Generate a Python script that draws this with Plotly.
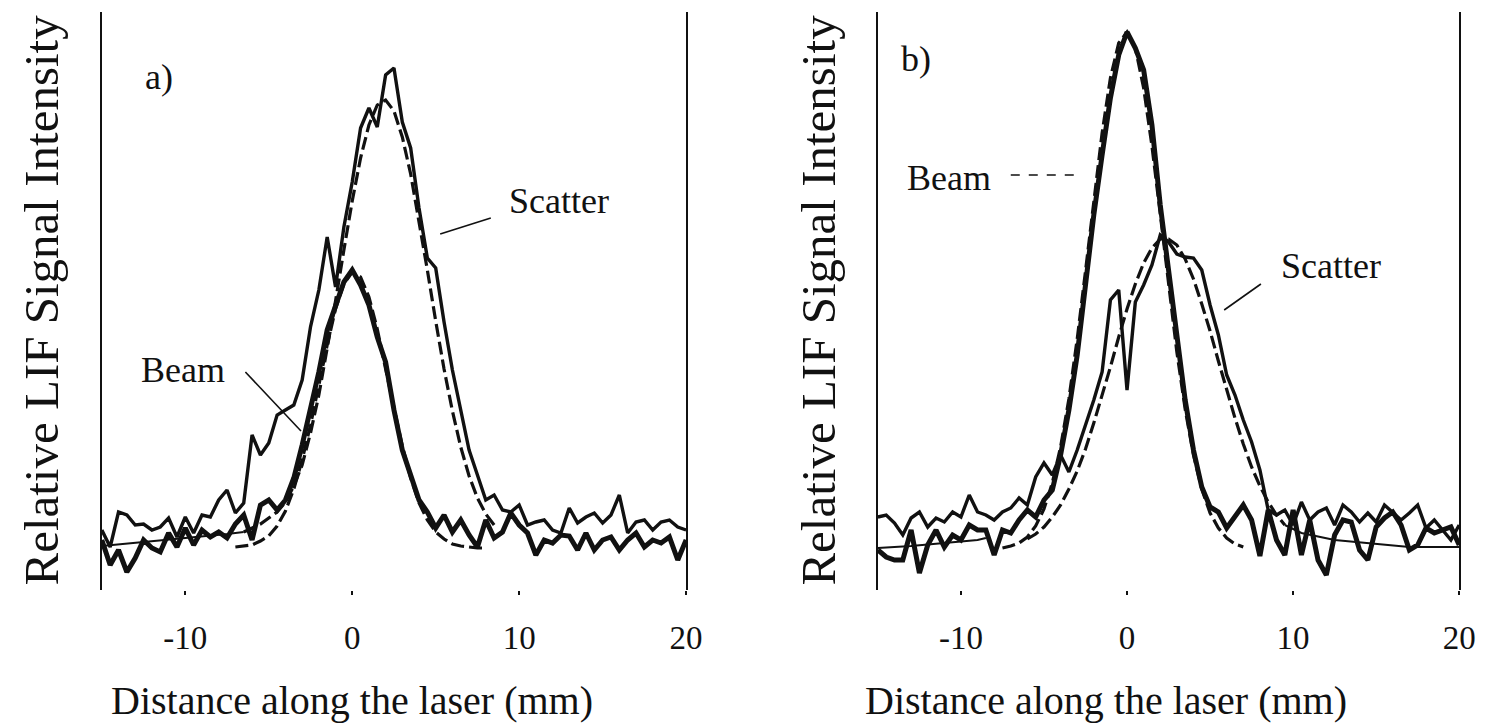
import plotly.graph_objects as go

# ---------------- data ----------------
X_MEAS = [-15.0, -14.5, -14.0, -13.5, -13.0, -12.5, -12.0, -11.5, -11.0, -10.5,
          -10.0, -9.5, -9.0, -8.5, -8.0, -7.5, -7.0, -6.5, -6.0, -5.5,
          -5.0, -4.5, -4.0, -3.5, -3.0, -2.5, -2.0, -1.5, -1.0, -0.5,
          0.0, 0.5, 1.0, 1.5, 2.0, 2.5, 3.0, 3.5, 4.0, 4.5,
          5.0, 5.5, 6.0, 6.5, 7.0, 7.5, 8.0, 8.5, 9.0, 9.5,
          10.0, 10.5, 11.0, 11.5, 12.0, 12.5, 13.0, 13.5, 14.0, 14.5,
          15.0, 15.5, 16.0, 16.5, 17.0, 17.5, 18.0, 18.5, 19.0, 19.5, 20.0]

# panel a) measured
scatter_a = [60, 43, 78, 75, 65, 66, 60, 63, 72, 53,
             73, 57, 75, 73, 90, 100, 77, 87, 155, 135,
             147, 175, 180, 185, 210, 263, 300, 353, 303, 363,
             408, 462, 482, 463, 515, 522, 468, 442, 382, 332,
             322, 268, 220, 180, 140, 115, 90, 95, 80, 78,
             85, 65, 68, 70, 60, 57, 82, 67, 73, 77,
             67, 75, 95, 57, 68, 70, 60, 68, 70, 63, 60]
beam_a = [50, 25, 40, 18, 32, 50, 42, 38, 57, 43,
          62, 45, 60, 53, 58, 52, 66, 75, 50, 85,
          90, 80, 90, 112, 145, 180, 218, 260, 285, 308,
          320, 305, 285, 253, 228, 180, 140, 115, 90, 78,
          62, 75, 58, 70, 55, 43, 70, 52, 58, 77,
          65, 57, 35, 50, 47, 55, 54, 40, 57, 40,
          50, 53, 40, 50, 57, 43, 50, 47, 53, 30, 50]

# panel a) fits
x_beam_fit_a = [-7.0, -6.5, -6.0, -5.5, -5.0, -4.5, -4.0, -3.5, -3.0, -2.5,
                -2.0, -1.5, -1.0, -0.5, 0.0, 0.5, 1.0, 1.5, 2.0, 2.5,
                3.0, 3.5, 4.0, 4.5, 5.0, 5.5, 6.0, 6.5, 7.0, 7.5, 8.0]
beam_fit_a = [43, 44, 45, 49, 54, 64, 79, 101, 130, 165,
              205, 245, 281, 306, 318, 313, 293, 261, 221, 181,
              144, 112, 87, 70, 58, 51, 46, 44, 43, 42, 42]
x_scatter_fit_a = [-6.5, -6.0, -5.5, -5.0, -4.5, -4.0, -3.5, -3.0, -2.5, -2.0,
                   -1.5, -1.0, -0.5, 0.0, 0.5, 1.0, 1.5, 2.0, 2.5, 3.0,
                   3.5, 4.0, 4.5, 5.0, 5.5, 6.0, 6.5, 7.0, 7.5, 8.0, 8.5]
scatter_fit_a = [58, 62, 66, 72, 78, 88, 104, 125, 157, 195,
                 240, 289, 340, 389, 432, 465, 485, 490, 479, 453,
                 416, 370, 320, 269, 221, 179, 143, 114, 92, 76, 65]
x_tail_a = [-15.0, -13.0, -11.0, -9.0, -7.5, -6.5]
tail_a = [44, 47, 50, 53, 56, 58]

# panel b) measured
scatter_b = [73, 75, 67, 55, 72, 78, 63, 72, 68, 78,
             73, 95, 78, 75, 70, 78, 82, 92, 85, 113,
             127, 115, 135, 118, 140, 165, 190, 218, 290, 300,
             200, 288, 305, 325, 355, 348, 336, 333, 332, 320,
             285, 255, 215, 195, 170, 148, 120, 80, 75, 80,
             65, 88, 70, 78, 82, 65, 85, 78, 68, 77,
             68, 85, 77, 70, 77, 85, 62, 70, 60, 50, 65]
beam_b = [40, 33, 30, 30, 60, 17, 45, 60, 43, 55,
          50, 65, 60, 60, 35, 60, 57, 70, 80, 73,
          90, 100, 135, 180, 235, 310, 375, 435, 492, 535,
          558, 542, 520, 465, 385, 320, 250, 190, 140, 103,
          83, 78, 62, 73, 85, 70, 34, 80, 50, 35,
          80, 35, 70, 30, 15, 55, 70, 68, 40, 30,
          63, 72, 78, 65, 40, 45, 62, 57, 60, 63, 45]

# panel b) fits
x_beam_fit_b = [-7.5, -7.0, -6.5, -6.0, -5.5, -5.0, -4.5, -4.0, -3.5, -3.0,
                -2.5, -2.0, -1.5, -1.0, -0.5, 0.0, 0.5, 1.0, 1.5, 2.0,
                2.5, 3.0, 3.5, 4.0, 4.5, 5.0, 5.5, 6.0, 6.5, 7.0]
beam_fit_b = [42, 44, 47, 53, 64, 81, 107, 143, 191, 251,
              319, 390, 457, 512, 547, 558, 542, 502, 444, 376,
              305, 238, 181, 135, 101, 77, 62, 52, 46, 43]
x_scatter_fit_b = [-6.0, -5.5, -5.0, -4.5, -4.0, -3.5, -3.0, -2.5, -2.0, -1.5,
                   -1.0, -0.5, 0.0, 0.5, 1.0, 1.5, 2.0, 2.5, 3.0, 3.5,
                   4.0, 4.5, 5.0, 5.5, 6.0, 6.5, 7.0, 7.5, 8.0, 8.5, 9.0, 9.5]
scatter_fit_b = [51, 56, 63, 73, 85, 101, 119, 141, 167, 194,
                 223, 253, 281, 306, 327, 342, 351, 351, 345, 331,
                 311, 286, 259, 229, 200, 172, 146, 123, 104, 88, 75, 65]
x_tail_b_left = [-15.0, -13.0, -11.0, -9.0, -8.5]
tail_b_left = [42, 44, 47, 50, 52]
x_tail_b_right = [9.5, 10.5, 12.5, 15.0, 17.0, 20.0]
tail_b_right = [65, 57, 50, 46, 43, 43]

TICK_VALS = [-10, 0, 10, 20]
TICK_TEXT = ["-10", "0", "10", "20"]
X_TITLE = "Distance along the laser (mm)"
Y_TITLE = "Relative LIF Signal Intensity"

# ---------------- styling ----------------
INK = "#111111"
FONT = "Liberation Serif"
DASH = "13px,5px"

fig = go.Figure()


def add_line(x, y, xa, ya, width, dash="solid"):
    fig.add_trace(go.Scatter(x=x, y=y, xaxis=xa, yaxis=ya, mode="lines",
                             line=dict(color=INK, width=width, dash=dash),
                             showlegend=False, hoverinfo="skip"))


# panel a
add_line(x_tail_a, tail_a, "x", "y", 2)
add_line(x_beam_fit_a, beam_fit_a, "x", "y", 3.2, DASH)
add_line(x_scatter_fit_a, scatter_fit_a, "x", "y", 3.2, DASH)
add_line(X_MEAS, scatter_a, "x", "y", 3.4)
add_line(X_MEAS, beam_a, "x", "y", 5)
# panel b
add_line(x_tail_b_left, tail_b_left, "x2", "y2", 2)
add_line(x_tail_b_right, tail_b_right, "x2", "y2", 2)
add_line(x_beam_fit_b, beam_fit_b, "x2", "y2", 3.2, DASH)
add_line(x_scatter_fit_b, scatter_fit_b, "x2", "y2", 3.2, DASH)
add_line(X_MEAS, scatter_b, "x2", "y2", 3.4)
add_line(X_MEAS, beam_b, "x2", "y2", 5)

W, H = 1494, 727
dom_a = [103 / W, 694 / W]
dom_b = [888 / W, 1476 / W]
dom_y = [1 - 590 / H, 1 - 12 / H]

xaxis_common = dict(range=[-15, 20], showgrid=False, zeroline=False, showline=False,
                    tickmode="array", tickvals=TICK_VALS, ticktext=TICK_TEXT,
                    ticks="outside", ticklen=4, tickwidth=2, tickcolor=INK,
                    ticklabelstandoff=14,
                    tickfont=dict(family=FONT, size=33, color=INK))
yaxis_common = dict(range=[0, 578], showgrid=False, zeroline=False,
                    showline=True, mirror=True, linecolor=INK, linewidth=2,
                    showticklabels=False, ticks="")

fig.update_layout(
    width=W, height=H,
    margin=dict(l=0, r=0, t=0, b=0),
    paper_bgcolor="white", plot_bgcolor="white",
    xaxis=dict(domain=dom_a, anchor="y", **xaxis_common),
    yaxis=dict(domain=dom_y, anchor="x", **yaxis_common),
    xaxis2=dict(domain=dom_b, anchor="y2", **xaxis_common),
    yaxis2=dict(domain=dom_y, anchor="x2", **yaxis_common),
    font=dict(family=FONT, color=INK),
)

ann = []
# axis titles
for xc in [356 / W, 1119 / W]:
    ann.append(dict(text=X_TITLE, xref="paper", yref="paper", x=xc, y=1 - 700 / H,
                    xanchor="center", yanchor="middle", showarrow=False,
                    font=dict(family=FONT, size=40, color=INK)))
for xc in [41 / W, 827 / W]:
    ann.append(dict(text=Y_TITLE, xref="paper", yref="paper", x=xc, y=1 - 300 / H,
                    xanchor="center", yanchor="middle", textangle=-90, showarrow=False,
                    font=dict(family=FONT, size=49, color=INK)))

# panel letters and curve labels (data coordinates)
labels = [("a)", "x", "y", -11.6, 513), ("b)", "x2", "y2", -12.7, 531),
          ("Beam", "x", "y", -10.15, 220), ("Scatter", "x", "y", 12.4, 389),
          ("Beam", "x2", "y2", -10.7, 412), ("Scatter", "x2", "y2", 12.3, 324)]
for t, xr, yr, xv, yv in labels:
    ann.append(dict(text=t, xref=xr, yref=yr, x=xv, y=yv, xanchor="center",
                    yanchor="middle", showarrow=False,
                    font=dict(family=FONT, size=36, color=INK)))
fig.update_layout(annotations=ann)

# leader lines (data coordinates)
leaders = [("x", "y", -6.4, 218, -3.07, 159, "solid"),
           ("x", "y", 8.3, 372, 5.27, 356, "solid"),
           ("x2", "y2", -7.0, 415, -3.16, 415, "dash"),
           ("x2", "y2", 8.06, 306, 5.85, 280, "solid")]
for xr, yr, x0, y0, x1, y1, d in leaders:
    fig.add_shape(type="line", xref=xr, yref=yr, x0=x0, y0=y0, x1=x1, y1=y1,
                  line=dict(color=INK, width=1.6, dash=d))

fig.write_html("out.html")
